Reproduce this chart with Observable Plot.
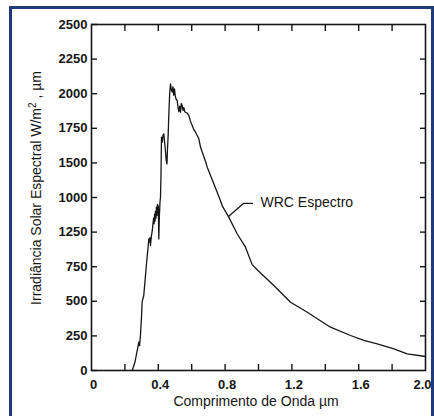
<!DOCTYPE html>
<html>
<head>
<meta charset="utf-8">
<script src="https://cdn.jsdelivr.net/npm/d3@7"></script>
<script src="https://cdn.jsdelivr.net/npm/@observablehq/plot@0.6"></script>
<style>
  html, body { margin: 0; padding: 0; background: #fff; }
  #wrap { position: relative; width: 434px; height: 416px; overflow: hidden; background: #fff; }
  #chart { position: absolute; left: 0; top: 0; }
  #border { position: absolute; left: 9px; top: 6px; width: 419px; height: 430px;
            border: 3px solid #1f3b7a; border-bottom: none; pointer-events: none; }
</style>
</head>
<body>
<div id="wrap"><div id="chart"></div><div id="border"></div></div>
<script>
// Wavelength (µm) and spectral irradiance (W/m²·µm)
const wavelength = [0.244,0.26,0.275,0.283,0.288,0.293,0.300,0.303,0.308,0.313,0.320,0.330,0.338,0.343,0.347,0.350,0.353,0.356,0.359,0.364,0.368,0.372,0.375,0.378,0.381,0.383,0.386,0.389,0.392,0.395,0.398,0.400,0.403,0.406,0.410,0.413,0.416,0.419,0.424,0.428,0.433,0.437,0.442,0.447,0.452,0.455,0.459,0.463,0.468,0.473,0.478,0.483,0.488,0.492,0.497,0.502,0.507,0.513,0.518,0.523,0.528,0.533,0.538,0.543,0.548,0.553,0.558,0.563,0.573,0.583,0.593,0.603,0.613,0.623,0.643,0.653,0.683,0.693,0.733,0.772,0.783,0.822,0.872,0.922,0.962,0.992,1.012,1.052,1.092,1.192,1.292,1.431,1.551,1.631,1.711,1.811,1.890,1.990,2.0];
const irradiance = [0,60,150,205,180,253,400,494,520,542,640,780,880,951,930,960,903,940,975,1010,1060,1100,1060,1130,1080,1150,1100,1180,1120,1200,1150,1190,951,1100,1216,1250,1400,1686,1650,1700,1710,1660,1600,1520,1493,1600,1698,1850,2000,2071,2030,2011,2050,1990,2034,1980,1960,1951,1900,1870,1910,1866,1930,1914,1880,1900,1870,1866,1860,1842,1800,1770,1740,1722,1674,1613,1510,1469,1348,1228,1190,1108,988,891,765,728,705,660,614,493,421,313,253,217,193,157,120,103,100];

const yTickValues = [0,250,500,750,1000,1250,1500,1750,2000,2250,2500];
const yTickLabels = ["0","250","500","750","1250","1000","1500","1750","2000","2250","2500"];
const yInnerTicks = [250,500,750,1000,1250,1500,1750,2000,2250];
const xMinorTicks = [0.2,0.4,0.6,0.8,1.0,1.2,1.4,1.6,1.8];
const xTickValues = [0,0.4,0.8,1.2,1.6];
const xTickLabels = ["0","0.4","0.8","1.2","1.6"];
const xLastTick = [2.0];
const xLastLabel = "2.0";

const xTitle = "Comprimento de Onda µm";
const yTitleParts = ["Irradiância Solar Espectral W/m", "2", " , µm"];
const annotText = ["WRC Espectro"];
const annotX = [1.012];
const annotY = [1214];
const leaderX = [0.964, 0.910, 0.820];
const leaderY = [1207, 1207, 1113];

const curve = wavelength.map((w, i) => ({w, v: irradiance[i]}));
const leader = leaderX.map((x, i) => ({x, y: leaderY[i]}));

const ink = "#161616";
const plot = Plot.plot({
  width: 434, height: 416,
  marginLeft: 91, marginRight: 9, marginTop: 24, marginBottom: 46,
  x: {domain: [0, 2]},
  y: {domain: [0, 2500]},
  style: {fontFamily: "'Liberation Sans', Arial, sans-serif", background: "transparent", overflow: "visible", color: ink},
  marks: [
    Plot.frame({stroke: ink, strokeWidth: 1.6}),
    Plot.axisY({anchor: "left", ticks: yTickValues, tickSize: -6, tickPadding: 10, strokeWidth: 1.4,
      tickFormat: d => yTickLabels[yTickValues.indexOf(d)], fontSize: 13, fontWeight: "bold", label: null}),
    Plot.axisY({anchor: "right", ticks: yInnerTicks, tickSize: -6, tickFormat: () => "", strokeWidth: 1.4, label: null}),
    Plot.axisX({anchor: "top", ticks: xMinorTicks, tickSize: -6, tickFormat: () => "", strokeWidth: 1.4, label: null}),
    Plot.axisX({anchor: "bottom", ticks: xMinorTicks, tickSize: -6, tickFormat: () => "", strokeWidth: 1.4, label: null}),
    Plot.axisX({anchor: "bottom", ticks: xTickValues, tickSize: 0, tickPadding: 9, dx: 2,
      tickFormat: d => xTickLabels[xTickValues.indexOf(d)], fontSize: 13, fontWeight: "bold", label: null}),
    Plot.axisX({anchor: "bottom", ticks: xLastTick, tickSize: 0, tickPadding: 9, dx: -3,
      tickFormat: () => xLastLabel, fontSize: 13, fontWeight: "bold", label: null}),
    Plot.line(curve, {x: "w", y: "v", stroke: ink, strokeWidth: 1.3, curve: "linear"}),
    Plot.line(leader, {x: "x", y: "y", stroke: ink, strokeWidth: 1.3}),
    Plot.text(annotText, {x: annotX, y: annotY, text: d => d, textAnchor: "start", fontSize: 14, fill: ink})
  ]
});

const svg = d3.select(plot);
svg.append("text")
  .attr("x", 256).attr("y", 406)
  .attr("text-anchor", "middle")
  .attr("font-size", 14).attr("fill", ink)
  .text(xTitle);
const yt = svg.append("text")
  .attr("transform", "translate(41,188) rotate(-90)")
  .attr("text-anchor", "middle")
  .attr("font-size", 14).attr("fill", ink);
yt.append("tspan").text(yTitleParts[0]);
yt.append("tspan").attr("dy", -5).attr("font-size", 10).text(yTitleParts[1]);
yt.append("tspan").attr("dy", 5).text(yTitleParts[2]);

document.getElementById("chart").appendChild(plot);
</script>
</body>
</html>
